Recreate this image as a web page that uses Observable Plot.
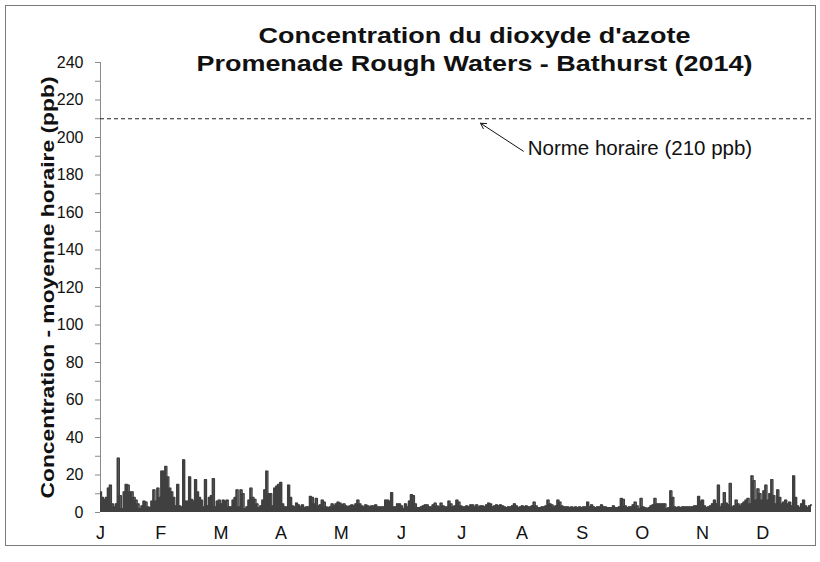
<!DOCTYPE html>
<html>
<head>
<meta charset="utf-8">
<script src="https://cdn.jsdelivr.net/npm/d3@7"></script>
<script src="https://cdn.jsdelivr.net/npm/@observablehq/plot@0.6"></script>
<style>
  html, body { margin: 0; padding: 0; background: #fff; }
  #wrap { position: relative; width: 820px; height: 562px; }
  #frame { position: absolute; left: 5px; top: 5px; width: 809px; height: 539px; border: 1px solid #7a7a7a; pointer-events: none; }
  #wrap svg { position: absolute; left: 0; top: 0; }
</style>
</head>
<body>
<div id="wrap"><div id="frame"></div></div>
<script>
// Titles and labels
const titleLine1 = "Concentration du dioxyde d'azote";
const titleLine2 = "Promenade Rough Waters - Bathurst (2014)";
const yLabel = "Concentration - moyenne horaire (ppb)";
const normLabel = "Norme horaire (210 ppb)";
const normValue = 210;

// Month tick labels and their positions (day index)
const monthLabels = ["J","F","M","A","M","J","J","A","S","O","N","D"];
const monthTickDays = [0, 30.4, 60.8, 91.2, 121.6, 152, 182.4, 212.8, 243.2, 273.6, 304, 334.4];

// Y ticks
const yTicks = [0,10,20,30,40,50,60,70,80,90,100,110,120,130,140,150,160,170,180,190,200,210,220,230,240];

// Annotation arrow (day, ppb)
const arrowFrom = {day: 213.5, value: 192.7};
const arrowTo = {day: 191.9, value: 207.6};
const normTextPos = {day: 215.7, value: 194};

// Daily peak NO2 (ppb), day 0..359
const dailyMax = [
  11, 8, 7, 8, 13, 14.5, 4.5, 3, 4.5, 29,
  9, 2, 11, 15, 14.5, 11, 11, 8, 6.5, 4.5,
  2, 3.5, 6, 5.5, 3, 2.5, 6, 12, 6, 13,
  8, 22, 22, 24.5, 19, 13, 11, 8, 3.5, 15,
  3.5, 3, 28, 6, 6, 19, 7, 6, 17.5, 11,
  8, 6.5, 3, 17.5, 3.5, 8, 9, 18, 3, 6,
  6.5, 4.5, 6.5, 6, 6.5, 3, 3, 6.5, 8, 12,
  3, 12, 10, 2, 3, 6.5, 13, 8, 7, 4.5,
  2.5, 3.5, 6.5, 12, 22, 10, 10, 3.5, 13, 14,
  15, 16, 4.5, 3, 3, 14.5, 8, 3.5, 3, 5,
  4, 3, 4, 2.5, 3, 3, 8.5, 8, 4.5, 7.5,
  3.5, 4, 6.5, 5.5, 3, 2.5, 3, 4.5, 3.5, 4.5,
  5.5, 5, 4, 4.5, 3.5, 3, 3.5, 4, 3.5, 4.5,
  6.5, 4.5, 3.5, 3, 4, 3.5, 3, 3.5, 3.5, 4,
  3, 3, 3, 3, 6.5, 6.5, 6, 10.5, 3, 3,
  4.5, 4.5, 3.5, 2, 4.5, 3, 6, 9.5, 9, 4.5,
  2.5, 2.5, 3, 3.5, 4, 4, 3, 3, 4, 5,
  3.5, 3, 5, 3.5, 3, 3, 6, 4.5, 3, 3.5,
  6.5, 5.5, 3.5, 3, 3, 3.5, 3, 4, 4, 3,
  4, 3, 3.5, 3.5, 3, 4, 5, 4.5, 3, 3.5,
  4, 3.5, 4, 3.5, 3, 2.5, 3, 3, 3.5, 4.5,
  3.5, 2.5, 3, 3.5, 3, 3.5, 3, 3, 3.5, 5.5,
  3.5, 2.5, 2.5, 3, 3, 3.5, 6.5, 4.5, 4, 3,
  3.5, 6.5, 5.5, 3.5, 3, 3, 3, 2.5, 3, 2.5,
  3, 2.5, 3, 2.5, 3, 3, 5.5, 3, 4, 3,
  2.5, 3, 3, 4, 3, 3, 2.5, 2.5, 2.5, 3.5,
  2.5, 2.5, 3, 7.5, 7, 3.5, 2.5, 3, 3, 4,
  5.5, 3.5, 2, 7.5, 3, 2.5, 2, 2.5, 3.5, 4,
  7.5, 4.5, 4.5, 4.5, 4.5, 4.5, 2, 2.5, 11.5, 8,
  3, 2.5, 3, 2.5, 3, 3, 3, 3, 3, 3,
  3.5, 3.5, 8.5, 6, 6.5, 3.5, 2.5, 3, 3.5, 4.5,
  6.5, 4.5, 14.5, 3, 4.5, 10.5, 5, 4, 15.5, 3,
  3.5, 6.5, 4.5, 3.5, 4.5, 5.5, 6.5, 7.5, 4.5, 19.5,
  17, 6.5, 12.5, 10, 6.5, 11.5, 14.5, 6.5, 10, 17.5,
  9, 4.5, 12, 8, 4.5, 5.5, 6.5, 4.5, 5.5, 3.5,
  19.5, 8, 3.5, 2.5, 4.5, 6.5, 3.5, 2.5, 3.5, 4
];

const series = dailyMax.map((v, i) => ({day: i, value: v}));
const months = monthLabels.map((m, i) => ({label: m, day: monthTickDays[i]}));
const font = "'Liberation Sans', Arial, sans-serif";

const chart = Plot.plot({
  width: 820,
  height: 550,
  marginLeft: 100,
  marginRight: 9,
  marginTop: 62,
  marginBottom: 38,
  style: {fontFamily: font, background: "transparent", overflow: "visible"},
  x: {domain: [0, 359], axis: null},
  y: {domain: [0, 240], axis: null},
  marks: [
    Plot.ruleX([0], {stroke: "#8a8a8a", strokeWidth: 1}),
    Plot.axisY(yTicks, {
      tickSize: 5,
      tickPadding: 12,
      stroke: "#8a8a8a",
      fill: "#111",
      fontSize: 16,
      tickFormat: d => (d % 20 === 0 ? String(d) : ""),
      label: null
    }),
    Plot.text(months, {
      x: "day", text: "label", frameAnchor: "bottom", dy: 21,
      lineAnchor: "middle", fontSize: 18, fill: "#111"
    }),
    Plot.ruleY([normValue], {stroke: "#222", strokeWidth: 1, strokeDasharray: "4,3"}),
    Plot.areaY(series, {x: "day", y: "value", curve: "step", fill: "#404040"}),
    Plot.lineY(series, {x: "day", y: "value", curve: "step", stroke: "#404040", strokeWidth: 1.4}),
    Plot.arrow([{}], {
      x1: () => arrowFrom.day, y1: () => arrowFrom.value,
      x2: () => arrowTo.day, y2: () => arrowTo.value,
      bend: 0, stroke: "#111", strokeWidth: 1, headLength: 9
    }),
    Plot.text([normLabel], {
      x: () => normTextPos.day, y: () => normTextPos.value, text: d => d,
      textAnchor: "start", dx: 0, fontSize: 20.5, fill: "#111"
    }),
    Plot.text([titleLine1], {
      frameAnchor: "top", text: d => d, dx: 18.5, dy: -20, lineAnchor: "bottom",
      textAnchor: "middle", fontSize: 22, fontWeight: "bold", fill: "#111"
    }),
    Plot.text([titleLine2], {
      frameAnchor: "top", text: d => d, dx: 18.5, dy: 8, lineAnchor: "bottom",
      textAnchor: "middle", fontSize: 22, fontWeight: "bold", fill: "#111"
    }),
    Plot.text([yLabel], {
      frameAnchor: "left", text: d => d, rotate: -90, dx: -53,
      textAnchor: "middle", fontSize: 19, fontWeight: "bold", fill: "#111"
    })
  ]
});
document.getElementById("wrap").appendChild(chart);

// Widen the bold title and axis-title glyphs to the reference's proportions
const stretchTo = new Map([[titleLine1, 432], [titleLine2, 556], [yLabel, 422]]);
chart.querySelectorAll("text").forEach(t => {
  const len = stretchTo.get(t.textContent);
  if (len) {
    t.setAttribute("textLength", len);
    t.setAttribute("lengthAdjust", "spacingAndGlyphs");
  }
});
</script>
</body>
</html>
